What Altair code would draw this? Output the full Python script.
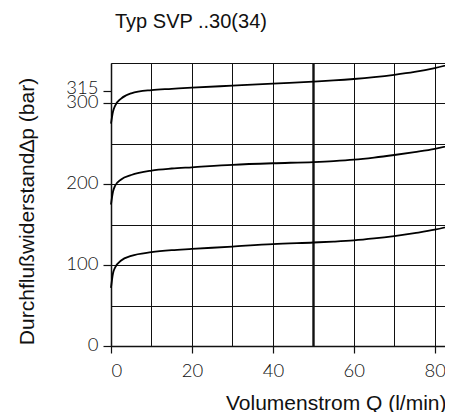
import altair as alt
import pandas as pd

# Flow rate Q (l/min)
q = [0, 0.5, 1, 2.5, 5, 10, 15, 20, 30, 40, 50, 55, 60, 65, 70, 75, 80, 85]
# Pressure drop curves (bar)
p_315 = [275, 290, 297, 306, 312.5, 316.5, 318, 319.5, 322, 324.5, 327, 328.4, 330.2, 332.5, 335.4, 339, 343.8, 350]
p_200 = [175, 191, 198, 206, 211.5, 217, 219.5, 221, 224, 226, 227.5, 228.7, 230.4, 233, 236.2, 239.8, 243.8, 249.5]
p_100 = [72, 90, 97, 105.7, 111.5, 116, 118.5, 120, 123, 126, 128, 129.1, 130.6, 133, 136, 139.6, 143.8, 150]
series_names = ["315", "200", "100"]

y_ticks = [0, 50, 100, 150, 200, 250, 300, 315, 350]
x_ticks = [0, 10, 20, 30, 40, 50, 60, 70, 80]

rows = []
for name, vals in zip(series_names, [p_315, p_200, p_100]):
    for xv, yv in zip(q, vals):
        rows.append({"Q": xv, "dp": yv, "series": name})
df = pd.DataFrame(rows)

label_font = "Lato"
title_font = "Liberation Sans"

x_axis = alt.Axis(
    values=x_ticks,
    labelExpr="datum.value % 20 == 0 ? datum.label : ''",
    title="Volumenstrom Q (l/min)",
    titleX=335, titleY=63, titleAlign="right", titleBaseline="alphabetic",
    titleFont=title_font, titleFontSize=21, titleFontWeight="normal", titleColor="#111",
    labelFont=label_font, labelFontSize=18.5, labelFontWeight=300, labelColor="#111",
    labelPadding=8, tickSize=7, tickColor="#111", tickWidth=1.2,
    tickOpacity={"condition": {"test": "datum.value % 20 != 0", "value": 0}, "value": 1},
    grid=True, gridColor="#111", gridOpacity=1,
    gridWidth={"condition": {"test": "datum.value == 50", "value": 2.4}, "value": 1},
    domainColor="#111", domainWidth=1.5, labelOverlap=False, labelBound=False,
)

y_axis = alt.Axis(
    values=y_ticks,
    labelExpr="(datum.value == 50 || datum.value == 150 || datum.value == 250 || datum.value == 350) ? '' : datum.label",
    title="Durchflußwiderstand∆p (bar)",
    titleX=-78, titleY=148, titleAngle=270, titleAlign="center", titleBaseline="alphabetic",
    titleFont=title_font, titleFontSize=21, titleFontWeight="normal", titleColor="#111",
    labelFont=label_font, labelFontSize=18.5, labelFontWeight=300, labelColor="#111",
    labelPadding=5, labelBaseline="alphabetic",
    labelOffset={"condition": {"test": "datum.value == 315", "value": 2}, "value": 4.5},
    tickSize=8, tickColor="#111", tickWidth=1.2,
    tickOpacity={"condition": {"test": "datum.value % 100 != 0 && datum.value != 315", "value": 0}, "value": 1},
    grid=True, gridColor="#111", gridWidth=1,
    gridOpacity={"condition": {"test": "datum.value == 315", "value": 0}, "value": 1},
    domainColor="#111", domainWidth=1.5, labelOverlap=False, labelBound=False,
)

chart = (
    alt.Chart(df)
    .mark_line(color="black", strokeWidth=1.8, interpolate="monotone", clip=False)
    .encode(
        x=alt.X("Q:Q", scale=alt.Scale(domain=[0, 85], nice=False, zero=True), axis=x_axis),
        y=alt.Y("dp:Q", scale=alt.Scale(domain=[0, 350], nice=False), axis=y_axis),
        detail="series:N",
    )
    .properties(
        width=344,
        height=283,
        title=alt.TitleParams(
            "Typ SVP ..30(34)", anchor="start", frame="group", dx=4, offset=5,
            baseline="alphabetic", font=title_font, fontSize=20, fontWeight="normal", color="#111",
        ),
        autosize=alt.AutoSizeParams(type="none"),
        padding={"left": 103, "top": 55, "right": -10, "bottom": 66},
        background="white",
    )
    .configure_view(strokeWidth=0)
)

chart.save("out.html", embed_options={"renderer": "svg", "actions": False})
